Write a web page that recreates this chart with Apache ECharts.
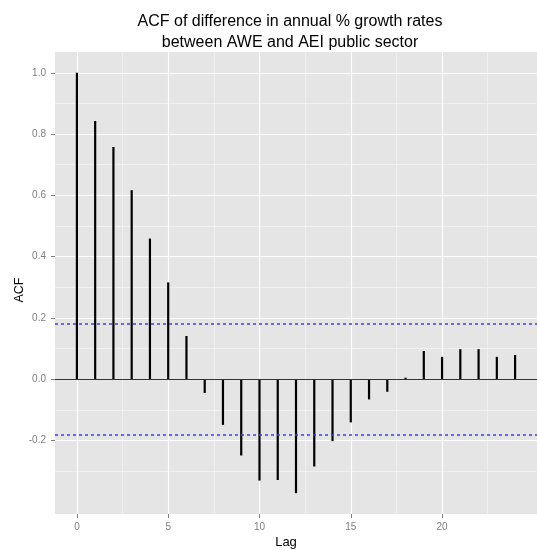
<!DOCTYPE html>
<html><head><meta charset="utf-8">
<script src="https://cdn.jsdelivr.net/npm/echarts@6/dist/echarts.min.js"></script>
<style>html,body{margin:0;padding:0;background:#fff}#c{width:537px;height:550px}</style>
</head><body><div id="c"></div>
<script>
const lags = [0,1,2,3,4,5,6,7,8,9,10,11,12,13,14,15,16,17,18,19,20,21,22,23,24];
const acfValues = [1.0, 0.843, 0.758, 0.617, 0.459, 0.316, 0.141, -0.045, -0.149, -0.249, -0.331, -0.329, -0.372, -0.285, -0.202, -0.141, -0.066, -0.041, 0.005, 0.092, 0.073, 0.098, 0.098, 0.073, 0.079];
const ciBound = 0.183;
const xTickValues = [0,5,10,15,20];
const xMinorGrid = [2.5,7.5,12.5,17.5,22.5];
const yTickValues = [-0.2,0,0.2,0.4,0.6,0.8,1.0];
const yMinorGrid = [-0.3,-0.1,0.1,0.3,0.5,0.7,0.9];
const titleText = 'ACF of difference in annual % growth rates\nbetween AWE and AEI public sector';
const xName = 'Lag';
const yName = 'ACF';

const gray = '#7f7f7f';
const chart = echarts.init(document.getElementById('c'), null, {renderer:'canvas'});
const xRange = {min:-1.2, max:25.2};
const yRange = {min:-0.44, max:1.068};
chart.setOption({
  animation:false,
  textStyle:{fontFamily:'Liberation Sans'},
  title:{text:titleText, left:285, top:6, textAlign:'center',
    textStyle:{fontFamily:'Liberation Sans', fontSize:16, fontWeight:'normal', color:'#000', lineHeight:21}},
  grid:{left:55, top:52, bottom:36, right:-10.4, show:true, backgroundColor:'#e5e5e5', borderWidth:0, containLabel:false},
  xAxis:[
    {type:'value', min:xRange.min, max:xRange.max, axisLine:{show:false, onZero:false},
     axisTick:{show:true, customValues:xTickValues, length:4, lineStyle:{color:gray}},
     axisLabel:{customValues:xTickValues, color:gray, fontSize:10, margin:8},
     splitLine:{show:true, lineStyle:{color:'#ffffff', width:1.2}}, z:2},
    {type:'value', min:xRange.min, max:xRange.max, axisLine:{show:false, onZero:false},
     axisTick:{show:false, customValues:xMinorGrid},
     axisLabel:{show:false},
     splitLine:{show:true, lineStyle:{color:'#f2f2f2', width:0.8}}, z:1}
  ],
  yAxis:[
    {type:'value', min:yRange.min, max:yRange.max, axisLine:{show:false, onZero:false},
     axisTick:{show:true, customValues:yTickValues, length:4, lineStyle:{color:gray}},
     axisLabel:{customValues:yTickValues, color:gray, fontSize:10, margin:9, formatter:v=>Number(v).toFixed(1)},
     splitLine:{show:true, lineStyle:{color:'#ffffff', width:1.2}}, z:2},
    {type:'value', min:yRange.min, max:yRange.max, axisLine:{show:false, onZero:false},
     axisTick:{show:false, customValues:yMinorGrid},
     axisLabel:{show:false},
     splitLine:{show:true, lineStyle:{color:'#f2f2f2', width:0.8}}, z:1}
  ],
  graphic:[
    {type:'text', x:20, y:290, rotation:Math.PI/2, style:{text:yName, fontFamily:'Liberation Sans', fontSize:12.5, fill:'#000', align:'center', verticalAlign:'middle'}},
    {type:'text', x:286, y:542, style:{text:xName, fontFamily:'Liberation Sans', fontSize:13, fill:'#000', align:'center', verticalAlign:'middle'}}
  ],
  series:[{
    type:'bar', xAxisIndex:0, yAxisIndex:0, barWidth:2.2,
    itemStyle:{color:'#000'},
    data:lags.map((l,i)=>[l, acfValues[i]]),
    markLine:{silent:true, symbol:['none','none'], label:{show:false},
      data:[
        {yAxis:0, lineStyle:{color:'#333333', width:1, type:'solid'}},
        {yAxis:ciBound, lineStyle:{color:'#3c3cf5', width:1.5, type:[3,3]}},
        {yAxis:-ciBound, lineStyle:{color:'#3c3cf5', width:1.5, type:[3,3]}}
      ]}
  }]
});
</script></body></html>
